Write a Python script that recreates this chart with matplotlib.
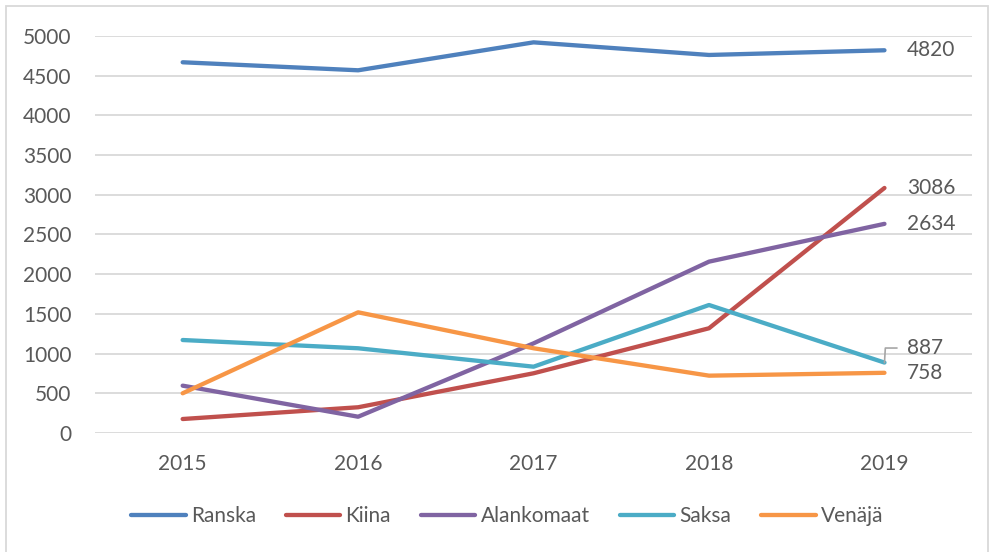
import matplotlib.pyplot as plt
from matplotlib.patches import Rectangle

# data
vuodet = ["2015", "2016", "2017", "2018", "2019"]
ranska = [4669, 4568, 4920, 4761, 4820]
kiina = [176, 324, 752, 1319, 3086]
alankomaat = [596, 205, 1129, 2158, 2634]
saksa = [1171, 1067, 835, 1612, 887]
venaja = [500, 1520, 1067, 722, 758]

sarjat = [
    ("Ranska", ranska, "#4F81BD"),
    ("Kiina", kiina, "#C0504D"),
    ("Alankomaat", alankomaat, "#8064A2"),
    ("Saksa", saksa, "#4BACC6"),
    ("Venäjä", venaja, "#F79646"),
]

plt.rcParams['font.family'] = ['Lato', 'DejaVu Sans']
teksti = "#595959"

fig = plt.figure(figsize=(9.89, 5.52), dpi=100)
ax = fig.add_axes([0.096, 0.2156, 0.887, 0.7192])

x = list(range(len(vuodet)))
for nimi, arvot, vari in sarjat:
    ax.plot(x, arvot, color=vari, lw=3.1, label=nimi, solid_capstyle="round",
            solid_joinstyle="round")

ax.set_xlim(-0.5, 4.5)
ax.set_ylim(0, 5000)
ax.set_yticks(range(0, 5001, 500))
ax.set_xticks(x)
ax.set_xticklabels(vuodet)
ax.tick_params(length=0, labelsize=15, colors=teksti)
ax.tick_params(axis="y", pad=17)
ax.tick_params(axis="x", pad=15)
ax.grid(axis="y", color="#D9D9D9", lw=1.3)
ax.set_axisbelow(True)
for s in ax.spines.values():
    s.set_visible(False)

# arvot viimeisen pisteen vieressä
for nimi, arvot, vari in sarjat:
    y = arvot[-1]
    if nimi == "Saksa":
        ty = 1070
        ax.plot([4, 4.005, 4.07], [y, ty, ty], color="#A6A6A6", lw=1.2)
    else:
        ty = y
    ax.annotate(str(arvot[-1]), (4, ty), xytext=(16, 0), textcoords="offset points",
                va="center", ha="left", fontsize=15, color=teksti,
                annotation_clip=False)

leg = fig.legend(loc="center", bbox_to_anchor=(0.513, 0.065), ncol=5, frameon=False,
                 fontsize=15, handlelength=2.6, handletextpad=0.25,
                 columnspacing=1.45)
for t in leg.get_texts():
    t.set_color(teksti)

# kehys
fig.patches.append(Rectangle((6 / 989, -0.01), 982 / 989, 1 - 6 / 552 + 0.01,
                             transform=fig.transFigure, fill=False,
                             edgecolor="#D9D9D9", lw=1.3))

fig.savefig("out.png", dpi=100)
